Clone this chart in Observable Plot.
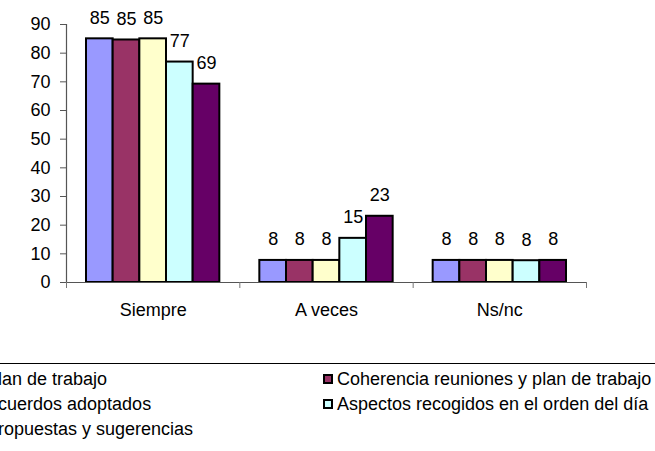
<!DOCTYPE html>
<html>
<head>
<meta charset="utf-8">
<script src="https://cdn.jsdelivr.net/npm/d3@7"></script>
<script src="https://cdn.jsdelivr.net/npm/@observablehq/plot@0.6"></script>
<style>
  html, body { margin: 0; padding: 0; background: #fff; overflow: hidden; }
  #wrap { position: relative; width: 655px; height: 451px; overflow: hidden; font-family: "Liberation Sans", Arial, sans-serif; }
  #chart { position: absolute; left: 0; top: 0; }
  #legend { position: absolute; left: -40px; top: 363px; width: 740px; height: 120px; border: 1px solid #000; box-sizing: border-box; }
  .item { position: absolute; display: flex; align-items: center; font-size: 18px; color: #000; white-space: nowrap; height: 24px; }
  .sw { width: 10px; height: 10px; box-sizing: border-box; border: 2px solid #000; margin-right: 4px; }
</style>
</head>
<body>
<div id="wrap">
  <div id="chart"></div>
  <div id="legend"></div>
</div>
<script>
const categories = ["Siempre", "A veces", "Ns/nc"];
const seriesNames = [
  "plan de trabajo",
  "Coherencia reuniones y plan de trabajo",
  "acuerdos adoptados",
  "Aspectos recogidos en el orden del día",
  "propuestas y sugerencias"
];
const seriesColors = ["#9999FF", "#993366", "#FFFFCC", "#CCFFFF", "#660066"];
const siempre = [85, 84.6, 85, 76.9, 69.2];
const aVeces = [7.7, 7.7, 7.7, 15.4, 23.1];
const nsnc = [7.7, 7.7, 7.7, 7.6, 7.7];
const yTicks = [0, 10, 20, 30, 40, 50, 60, 70, 80, 90];

const groups = [siempre, aVeces, nsnc];
const rows = categories.flatMap((c, gi) =>
  groups[gi].map((v, si) => ({category: c, gi, series: seriesNames[si], si, value: v}))
);

const nS = seriesNames.length;
const gapWidth = 1.5; // Excel gap width 150%
const unit = 1 / (nS + gapWidth);
const bx1 = d => d.gi + (gapWidth / 2 + d.si) * unit;
const bx2 = d => bx1(d) + unit;
const bxc = d => bx1(d) + unit / 2;

const fmt = d3.format(".0f");

const chart = Plot.plot({
  width: 655,
  height: 340,
  marginLeft: 66,
  marginRight: 69,
  marginTop: 24,
  marginBottom: 58,
  style: {fontFamily: "'Liberation Sans', Arial, sans-serif", fontSize: "18px", color: "#000", background: "#fff"},
  x: {type: "linear", domain: [0, categories.length], axis: null},
  y: {domain: [0, 90], axis: null},
  color: {domain: seriesNames, range: seriesColors},
  marks: [
    Plot.rectY(rows, {x1: bx1, x2: bx2, y1: 0, y2: "value", fill: "series", stroke: "#000", strokeWidth: 2}),
    Plot.text(rows, {x: bxc, y: "value", text: d => fmt(d.value), dy: -15, lineAnchor: "bottom", fontSize: 18, fill: "#000"}),
    Plot.ruleY([0], {stroke: "#555", strokeWidth: 1.2}),
    Plot.ruleX([0], {stroke: "#555", strokeWidth: 1.2}),
    Plot.axisY({ticks: yTicks, tickSize: 6, tickPadding: 10, label: null, stroke: "#555", fontSize: 18, tickFormat: d3.format("d")}),
    Plot.axisX({ticks: d3.range(0, categories.length + 1), tickSize: 6, tickFormat: () => "", label: null, stroke: "#777"}),
    Plot.axisX({ticks: categories.map((_, i) => i + 0.5), tickSize: 0, tickPadding: 21, tickFormat: t => categories[Math.floor(t)], label: null, fontSize: 18})
  ]
});
document.getElementById("chart").appendChild(chart);

// Legend (Excel-style box, partly outside the picture)
const legend = document.getElementById("legend");
const colLeft = [40 - 27, 40 + 322];
const rowTop = [3, 28, 53];
seriesNames.forEach((name, i) => {
  const item = document.createElement("div");
  item.className = "item";
  item.style.left = colLeft[i % 2] + "px";
  item.style.top = rowTop[Math.floor(i / 2)] + "px";
  const sw = document.createElement("span");
  sw.className = "sw";
  sw.style.background = seriesColors[i];
  const tx = document.createElement("span");
  tx.textContent = name;
  item.appendChild(sw);
  item.appendChild(tx);
  legend.appendChild(item);
});
</script>
</body>
</html>
